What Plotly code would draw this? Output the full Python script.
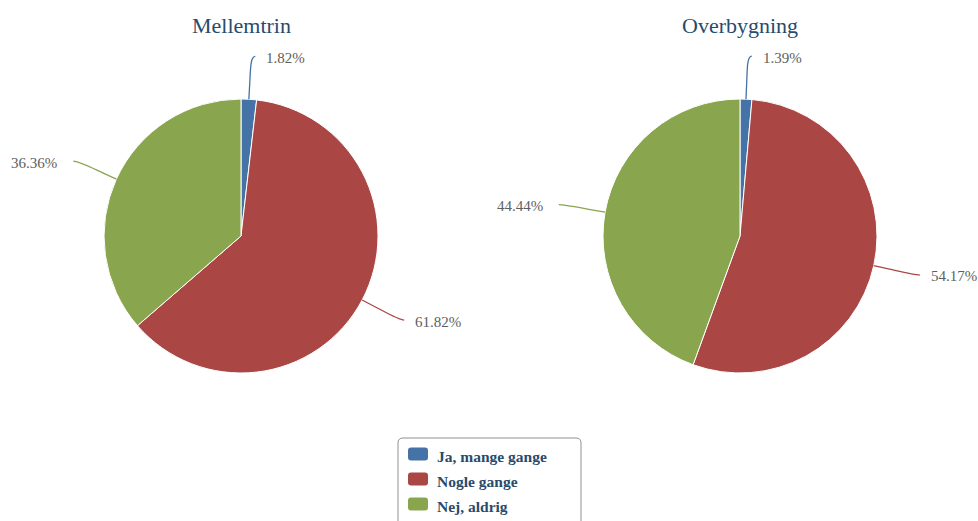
import math
import plotly.graph_objects as go

W, H = 978, 521

# Survey answers (percent of respondents) per school level
categories = ["Ja, mange gange", "Nogle gange", "Nej, aldrig"]
groups = ["Mellemtrin", "Overbygning"]
mellemtrin = [1.82, 61.82, 36.36]
overbygning = [1.39, 54.17, 44.44]
series = [mellemtrin, overbygning]

colors = ["#4572A7", "#AA4643", "#89A54E"]
label_color = "#606060"
title_color = "#274b6d"
serif = "Liberation Serif, Times New Roman, serif"

# pie geometry in pixels
centers = [(241, 236), (740, 236)]
radius = 137
label_radius = 180
break_radius = radius + 15

fig = go.Figure()
shapes = []
annotations = []

for (cx, cy), values, name in zip(centers, series, groups):
    fig.add_trace(go.Pie(
        labels=categories,
        values=values,
        sort=False,
        direction="clockwise",
        rotation=0,
        marker=dict(colors=colors, line=dict(color="white", width=1)),
        textinfo="none",
        hoverinfo="label+percent",
        showlegend=False,
        domain=dict(x=[(cx - radius) / W, (cx + radius) / W],
                    y=[1 - (cy + radius) / H, 1 - (cy - radius) / H]),
    ))

    annotations.append(dict(
        x=cx, y=25, xref="x", yref="y", text=name, showarrow=False,
        xanchor="center", yanchor="middle",
        font=dict(family=serif, size=22, color=title_color),
    ))

    # outside labels with soft connectors
    total = sum(values)
    cum = 0.0
    for v, col in zip(values, colors):
        theta = math.radians(360.0 * (cum + v / 2) / total)
        cum += v
        s, c = math.sin(theta), -math.cos(theta)
        side = 1 if s >= 0 else -1
        p0 = (cx + radius * s, cy + radius * c)
        brk = (cx + break_radius * s, cy + break_radius * c)
        end = (cx + label_radius * s + side * 4, cy + label_radius * c)
        ctrl2 = (2 * brk[0] - p0[0], 2 * brk[1] - p0[1])
        path = (f"M {end[0]:.2f},{end[1]:.2f} "
                f"C {end[0] - side * 5:.2f},{end[1]:.2f} "
                f"{ctrl2[0]:.2f},{ctrl2[1]:.2f} {brk[0]:.2f},{brk[1]:.2f} "
                f"L {p0[0]:.2f},{p0[1]:.2f}")
        shapes.append(dict(type="path", path=path, xref="x", yref="y",
                           line=dict(color=col, width=1.3)))
        annotations.append(dict(
            x=end[0] + (9 if side > 0 else -14), y=end[1] + 1.5,
            xref="x", yref="y", text=f"{v:.2f}%", showarrow=False,
            xanchor="left" if side > 0 else "right", yanchor="middle",
            font=dict(family=serif, size=15, color=label_color),
        ))

# legend box with rounded corners
lx0, lx1, ly0, rr = 398, 581, 438, 5
shapes.append(dict(
    type="path", xref="x", yref="y",
    path=(f"M {lx0},{H + 10} L {lx0},{ly0 + rr} Q {lx0},{ly0} {lx0 + rr},{ly0} "
          f"L {lx1 - rr},{ly0} Q {lx1},{ly0} {lx1},{ly0 + rr} L {lx1},{H + 10}"),
    line=dict(color="#909090", width=1),
))
for i, (cat, col) in enumerate(zip(categories, colors)):
    yc = 454 + 25 * i
    x0, x1, y0, y1, q = 408, 428, yc - 6.5, yc + 6.5, 3
    shapes.append(dict(
        type="path", xref="x", yref="y",
        path=(f"M {x0 + q},{y0} L {x1 - q},{y0} Q {x1},{y0} {x1},{y0 + q} "
              f"L {x1},{y1 - q} Q {x1},{y1} {x1 - q},{y1} L {x0 + q},{y1} "
              f"Q {x0},{y1} {x0},{y1 - q} L {x0},{y0 + q} Q {x0},{y0} {x0 + q},{y0} Z"),
        fillcolor=col, line=dict(color=col, width=0),
    ))
    annotations.append(dict(
        x=435, y=yc + 2, xref="x", yref="y", text=f"<b>{cat}</b>",
        showarrow=False, xanchor="left", yanchor="middle",
        font=dict(family=serif, size=15.5, color=title_color),
    ))

fig.update_layout(
    width=W, height=H,
    margin=dict(l=0, r=0, t=0, b=0),
    paper_bgcolor="white", plot_bgcolor="rgba(0,0,0,0)",
    xaxis=dict(range=[0, W], visible=False, fixedrange=True),
    yaxis=dict(range=[H, 0], visible=False, fixedrange=True),
    shapes=shapes,
    annotations=annotations,
    showlegend=False,
)

fig.write_html("out.html")
